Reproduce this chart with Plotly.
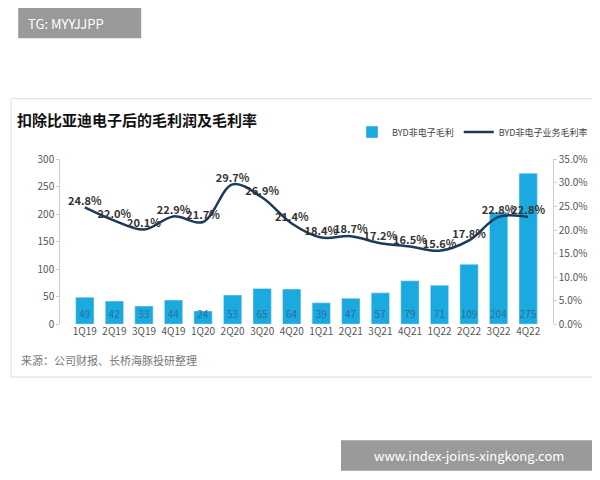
import plotly.graph_objects as go

quarters = ["1Q19", "2Q19", "3Q19", "4Q19", "1Q20", "2Q20", "3Q20", "4Q20",
            "1Q21", "2Q21", "3Q21", "4Q21", "1Q22", "2Q22", "3Q22", "4Q22"]
gross_profit = [49, 42, 33, 44, 24, 53, 65, 64, 39, 47, 57, 79, 71, 109, 204, 275]
gross_margin = [24.8, 22.0, 20.1, 22.9, 21.7, 29.7, 26.9, 21.4,
                18.4, 18.7, 17.2, 16.5, 15.6, 17.8, 22.8, 22.8]

fig = go.Figure()
fig.add_trace(go.Bar(
    x=quarters, y=gross_profit, name="BYD非电子毛利",
    marker_color="#1AAAE0", width=0.62,
    text=[str(v) for v in gross_profit], textposition="inside", textangle=0,
    constraintext="none", insidetextanchor="start",
    textfont=dict(size=10, color="#2a6f96"),
))
fig.add_trace(go.Scatter(
    x=quarters, y=gross_margin, name="BYD非电子业务毛利率", yaxis="y2",
    mode="lines+text", line=dict(color="#1B3A5C", width=2.5, shape="spline"),
    text=[f"<b>{v:.1f}%</b>" for v in gross_margin], textposition="top center",
    textfont=dict(size=11, color="#333333", family="Noto Sans CJK SC"),
))

fig.update_layout(
    width=600, height=480, margin=dict(l=0, r=0, t=0, b=0),
    paper_bgcolor="white", plot_bgcolor="white",
    font=dict(family="Noto Sans CJK SC", size=10, color="#555555"),
    showlegend=True, bargap=0.38, uniformtext=dict(minsize=10, mode="show"),
    legend=dict(orientation="h", x=0.975, xanchor="right", y=0.752, yanchor="middle",
                font=dict(size=9, color="#444444"), bgcolor="rgba(0,0,0,0)",
                itemwidth=30),
    xaxis=dict(domain=[0.087, 0.908], showline=False, ticks="", tickfont=dict(size=10)),
    yaxis=dict(domain=[0.338, 0.693], range=[0, 300], dtick=50, showgrid=False,
               showline=True, linecolor="#cccccc", ticks="outside", ticklen=3,
               tickcolor="#cccccc", zeroline=False),
    yaxis2=dict(overlaying="y", side="right", range=[0, 35], dtick=5, ticksuffix=".0%",
                showgrid=False, showline=True, linecolor="#cccccc", ticks="outside",
                ticklen=3, tickcolor="#cccccc", zeroline=False),
    shapes=[
        dict(type="rect", xref="paper", yref="paper", x0=0.005, x1=0.995,
             y0=0.224, y1=0.824, line=dict(color="#dddddd", width=1)),
        dict(type="rect", xref="paper", yref="paper", x0=0.017, x1=0.222,
             y0=0.954, y1=1.02, fillcolor="#9a9a9a", line_width=0),
        dict(type="rect", xref="paper", yref="paper", x0=0.555, x1=0.983,
             y0=0.022, y1=0.088, fillcolor="#9a9a9a", line_width=0),
    ],
    annotations=[
        dict(text="<b>扣除比亚迪电子后的毛利润及毛利率</b>", xref="paper", yref="paper",
             x=0.012, y=0.78, xanchor="left", yanchor="middle", showarrow=False,
             font=dict(size=15, color="#111111")),
        dict(text="来源：公司财报、长桥海豚投研整理", xref="paper", yref="paper",
             x=0.018, y=0.261, xanchor="left", yanchor="middle", showarrow=False,
             font=dict(size=11, color="#777777")),
        dict(text="TG: MYYJJPP", xref="paper", yref="paper", x=0.03, y=0.987,
             xanchor="left", yanchor="middle", showarrow=False,
             font=dict(size=13, color="white")),
        dict(text="www.index-joins-xingkong.com", xref="paper", yref="paper", x=0.769,
             y=0.055, xanchor="center", yanchor="middle", showarrow=False,
             font=dict(size=13, color="white")),
    ],
)

fig.write_html("out.html")
